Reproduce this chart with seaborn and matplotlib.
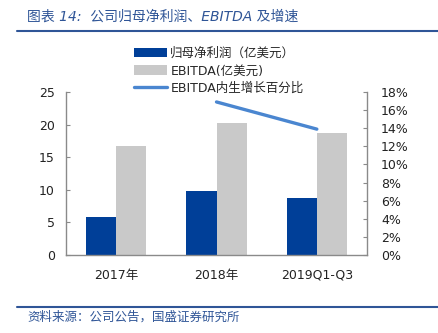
import matplotlib
matplotlib.use("Agg")
import matplotlib.pyplot as plt
import seaborn as sns
import pandas as pd
import numpy as np
from matplotlib.patches import Patch
from matplotlib.lines import Line2D
from matplotlib.ticker import FixedLocator, FuncFormatter

categories = ["2017年", "2018年", "2019Q1-Q3"]
net_profit = [5.9, 9.8, 8.8]
ebitda = [16.7, 20.2, 18.7]
growth_pct = [np.nan, 16.9, 13.9]
left_ticks = [0, 5, 10, 15, 20, 25]
right_ticks = [0, 2, 4, 6, 8, 10, 12, 14, 16, 18]
series_names = ["归母净利润（亿美元）", "EBITDA(亿美元)", "EBITDA内生增长百分比"]

sns.set_style("white")
plt.rcParams['font.family'] = ['DejaVu Sans', 'Noto Sans CJK SC']

BLUE = "#003f98"
GRAY = "#c9c9c9"
LINE = "#4a86d0"
AX = "#8a8a8a"
TITLE = "#2f5597"

df = pd.DataFrame({
    "cat": categories * 2,
    "val": net_profit + ebitda,
    "series": [series_names[0]] * 3 + [series_names[1]] * 3,
})

fig = plt.figure(figsize=(4.38, 3.33), dpi=100)
ax = fig.add_axes([66 / 438, 1 - 255 / 333, 301 / 438, 163 / 333])

sns.barplot(data=df, x="cat", y="val", hue="series", palette=[BLUE, GRAY],
            width=0.6, saturation=1, ax=ax, legend=False, linewidth=0)
ax.set_xlim(-0.5, 2.5)
ax.set_ylim(0, 25)
ax.set_yticks(left_ticks)
ax.set_xlabel("")
ax.set_ylabel("")

ax2 = ax.twinx()
sns.lineplot(x=[0, 1, 2], y=growth_pct, ax=ax2, color=LINE, linewidth=2.4)
ax2.set_ylim(0, 18)
ax2.set_yticks(right_ticks)
ax2.yaxis.set_major_formatter(FuncFormatter(lambda v, p: f"{int(v)}%"))
ax2.set_xlim(-0.5, 2.5)

for a in (ax, ax2):
    a.spines['top'].set_visible(False)
    for s in ('left', 'right', 'bottom'):
        a.spines[s].set_color(AX)
        a.spines[s].set_linewidth(1.0)
    a.tick_params(axis='y', direction='in', length=3, color=AX, labelsize=9,
                  labelcolor="#222222", pad=8)

ax.spines['right'].set_visible(False)
ax2.spines['left'].set_visible(False)
ax2.spines['bottom'].set_visible(False)

ax.tick_params(axis='x', which='major', length=0, labelsize=9, labelcolor="#222222", pad=10)
ax.xaxis.set_minor_locator(FixedLocator([0.5, 1.5]))
ax.tick_params(axis='x', which='minor', direction='in', length=3, color=AX)
ax2.tick_params(axis='y', pad=10)

handles = [Patch(facecolor=BLUE, edgecolor='none'),
           Patch(facecolor=GRAY, edgecolor='none'),
           Line2D([0], [0], color=LINE, linewidth=2.4)]
fig.legend(handles, series_names, loc='upper left',
           bbox_to_anchor=(129 / 438, 1 - 42 / 333), frameon=False,
           fontsize=9, handlelength=2.6, handleheight=0.8,
           labelspacing=0.35, handletextpad=0.3, borderaxespad=0)

fig.text(27 / 438, 1 - 17 / 333, "图表 14:  公司归母净利润、EBITDA 及增速",
         color=TITLE, fontsize=10, style='italic', va='center', ha='left')
fig.add_artist(Line2D([17 / 438, 1], [1 - 31 / 333] * 2, color=TITLE, linewidth=1.5))
fig.add_artist(Line2D([17 / 438, 1], [1 - 307 / 333] * 2, color=TITLE, linewidth=1.5))
fig.text(27 / 438, 1 - 317 / 333, "资料来源：公司公告，国盛证券研究所",
         color=TITLE, fontsize=9, style='italic', va='center', ha='left')

fig.savefig("out.png", dpi=100)
